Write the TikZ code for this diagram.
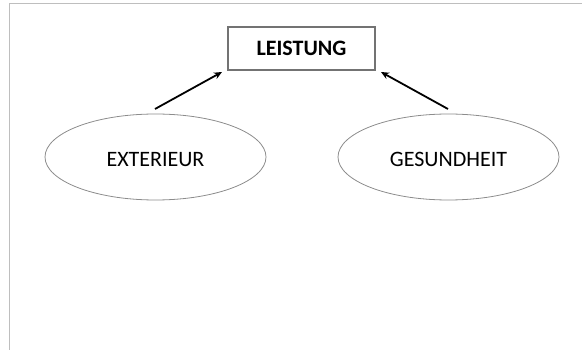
\documentclass[tikz,border=0pt]{standalone}
\usepackage{fontspec}
\setmainfont{Carlito}
\usetikzlibrary{shapes.geometric,arrows.meta}
\begin{document}
\begin{tikzpicture}[x=1pt,y=-1pt,
  framestyle/.style={draw={rgb,255:red,190;green,190;blue,190},line width=1pt},
  topbox/.style={draw={rgb,255:red,115;green,115;blue,115},line width=2.8pt,minimum width=147pt,minimum height=43pt,inner sep=0pt,font=\fontsize{22}{25}\selectfont\bfseries},
  oval/.style={ellipse,draw={rgb,255:red,140;green,140;blue,140},line width=0.8pt,minimum width=221pt,minimum height=86pt,inner sep=0pt,text height=19pt,font=\fontsize{22}{25}\selectfont},
  conn/.style={-{Stealth[length=8pt,width=7pt]},line width=1.8pt,black}]
\useasboundingbox (0,0) rectangle (582,355);
\coordinate (ftr) at (582,4);
\coordinate (ftl) at (9,4);
\coordinate (fbl) at (9,350);
\draw[framestyle] (ftr) -- (ftl) -- (fbl);
\node[topbox] (leistung) at (301.5,48.5) {LEISTUNG};
\node[oval] (ext) at (155.5,157) {EXTERIEUR};
\node[oval] (ges) at (448.5,157) {GESUNDHEIT};
\coordinate (a1) at (155,109);
\coordinate (a2) at (448,109);
\coordinate (t1) at (222,72);
\coordinate (t2) at (381,72);
\draw[conn] (a1) -- (t1);
\draw[conn] (a2) -- (t2);
\end{tikzpicture}
\end{document}
